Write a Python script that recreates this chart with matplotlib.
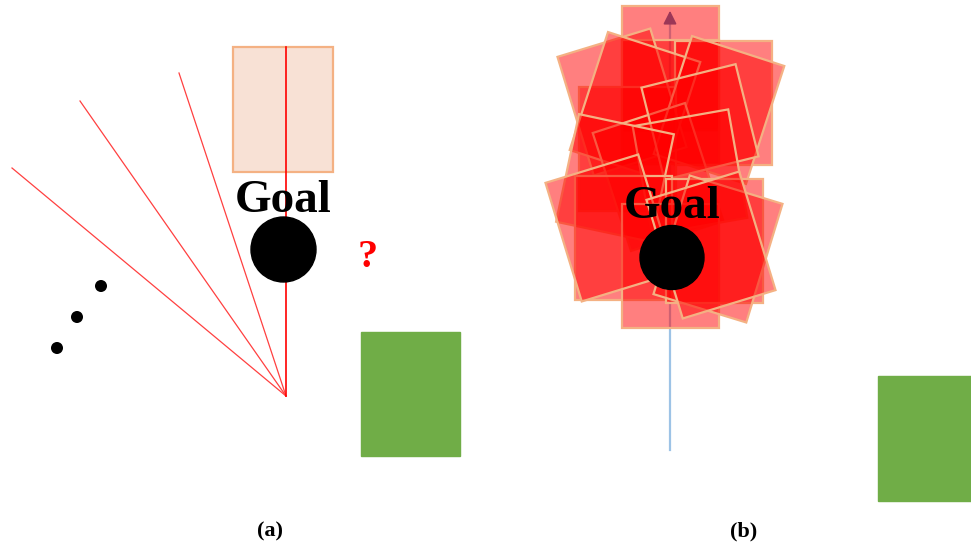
import matplotlib.pyplot as plt
from matplotlib.patches import Rectangle, Circle

# canvas is laid out in pixel units of the 971x550 picture (y grows downwards)
W, H = 971, 550

# ---- panel (a)
fan_origin = (286, 396)
fan_ends = [(12, 168), (80, 101), (179, 73)]
fan_top = (286, 47)
target_box_a = (233, 47, 100, 125)       # x, y, w, h
goal_a = (283.5, 249.5, 32.5)             # cx, cy, r
dots_x = [57, 77, 101]
dots_y = [348, 317, 286]
green_a = (361, 332, 99, 124)

# ---- panel (b)
green_b = (878, 376, 99, 125)
goal_b = (672, 257.5, 32)
arrow_x = 670
arrow_y = (450, 8)
# sampled boxes: cx, cy, w, h, clockwise tilt in degrees
box_cx = [670, 670, 723, 627, 622, 635, 719, 658, 700, 690, 615,
          623, 670, 714, 610, 718, 711]
box_cy = [68, 102, 103, 149, 102, 106, 110, 177, 122, 172, 178,
          238, 266, 241, 228, 249, 245]
box_w = [97] * 17
box_h = [124, 124, 124, 124, 124, 124, 124, 124, 95, 110, 110,
         124, 124, 124, 124, 124, 124]
box_tilt = [0, 0, 0, 0, -17, 18, 18, -18, -14, -10, 12,
            0, 0, 0, -17, 17, -17]

labels = ['(a)', '(b)']
labels_x = [270, 744]
labels_y = [531, 531]

serif = ['Liberation Serif', 'DejaVu Serif']
peach = '#F4B183'
red = '#FF0000'
green = '#70AD47'

fig = plt.figure(figsize=(W / 100, H / 100), dpi=100)
ax = fig.add_axes([0, 0, 1, 1])
ax.set_xlim(0, W)
ax.set_ylim(H, 0)
ax.axis('off')

# panel (a)
x, y, w, h = target_box_a
ax.add_patch(Rectangle((x, y), w, h, facecolor='#F8E1D5', edgecolor=peach, lw=1.6, zorder=1))
for ex, ey in fan_ends:
    ax.plot([fan_origin[0], ex], [fan_origin[1], ey], color='#FF4040', lw=0.9, zorder=2)
ax.plot([fan_origin[0], fan_top[0]], [fan_origin[1], fan_top[1]], color=red, lw=1.2, zorder=2)
ax.add_patch(Circle(goal_a[:2], goal_a[2], color='black', zorder=3))
ax.text(goal_a[0], 212, 'Goal', family=serif, weight='bold', fontsize=34,
        ha='center', va='baseline', zorder=4)
ax.text(368, 267, '?', family=serif, weight='bold', fontsize=29, color=red,
        ha='center', va='baseline')
ax.scatter(dots_x, dots_y, s=75, color='black', edgecolors='none')
x, y, w, h = green_a
ax.add_patch(Rectangle((x, y), w, h, color=green))

# panel (b)
ax.plot([arrow_x, arrow_x], [arrow_y[0], arrow_y[1] + 12], color='#9DC3E6', lw=1.6, zorder=1)
ax.annotate('', xy=(arrow_x, arrow_y[1]), xytext=(arrow_x, arrow_y[1] + 14),
            arrowprops=dict(arrowstyle='-|>', color='#3A6FB0', lw=1.2, mutation_scale=20),
            zorder=1)
for cx, cy, w, h, t in zip(box_cx, box_cy, box_w, box_h, box_tilt):
    ax.add_patch(Rectangle((cx - w / 2, cy - h / 2), w, h, angle=t, rotation_point='center',
                           facecolor=(1, 0, 0, 0.5), edgecolor=peach, lw=1.6, zorder=2))
ax.add_patch(Circle(goal_b[:2], goal_b[2], color='black', zorder=3))
ax.text(goal_b[0], 218, 'Goal', family=serif, weight='bold', fontsize=34,
        ha='center', va='baseline', zorder=4)
x, y, w, h = green_b
ax.add_patch(Rectangle((x, y), w, h, color=green))

for lab, lx, ly in zip(labels, labels_x, labels_y):
    ax.text(lx, ly, lab, family=serif, weight='bold', fontsize=16, ha='center', va='center')

fig.savefig('out.png', dpi=100)
